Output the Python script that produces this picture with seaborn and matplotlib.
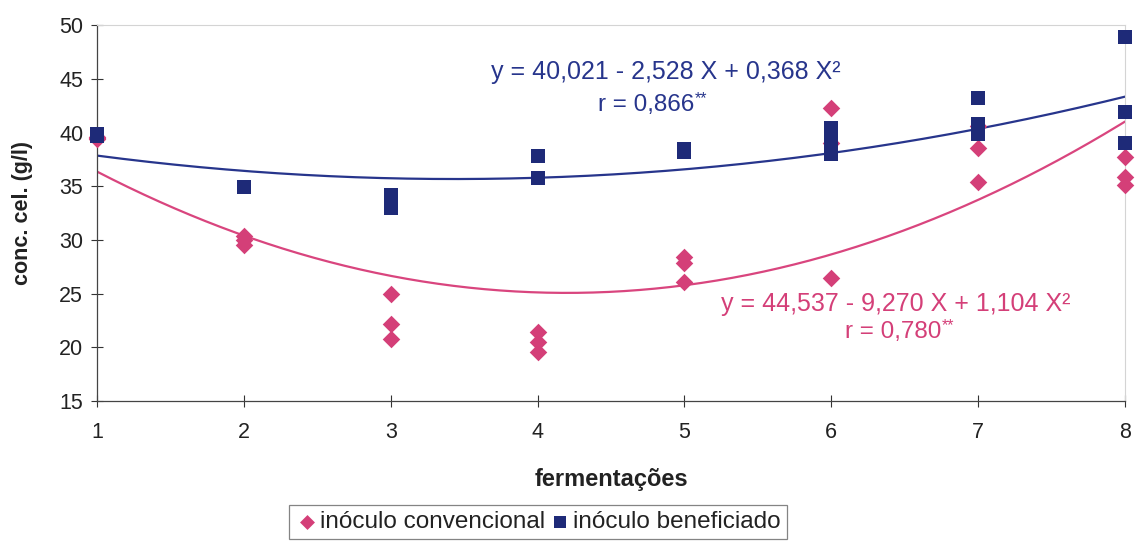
import numpy as np
import pandas as pd
import matplotlib
matplotlib.use("Agg")
import matplotlib.pyplot as plt
from matplotlib.transforms import offset_copy
import seaborn as sns

sns.set_theme(style="white")
plt.rcParams["font.family"] = ["Liberation Sans", "DejaVu Sans"]

# fermentation cycle of each observation (three replicates per cycle)
fermentacao = [1, 1, 1, 2, 2, 2, 3, 3, 3, 4, 4, 4,
               5, 5, 5, 6, 6, 6, 7, 7, 7, 8, 8, 8]
# cell concentration (g/l) with the conventional inoculum
conc_convencional = [39.5, 39.4, 39.6, 30.4, 30.0, 29.5, 25.0, 22.2, 20.8,
                     21.4, 20.5, 19.6, 28.4, 27.9, 26.1, 42.3, 39.0, 26.5,
                     40.6, 38.6, 35.4, 37.7, 35.9, 35.1]
# cell concentration (g/l) with the improved inoculum
conc_beneficiado = [39.8, 39.9, 39.7, 34.9, 34.9, 34.9, 34.2, 33.6, 33.0,
                    37.8, 35.8, 35.8, 38.4, 38.2, 38.5, 40.4, 39.2, 38.0,
                    43.2, 40.8, 39.9, 48.9, 41.9, 39.0]

# quadratic regression coefficients (a, b, c) for y = a + bX + cX^2
coef_convencional = [44.537, -9.270, 1.104]
coef_beneficiado = [40.021, -2.528, 0.368]
r_convencional = "0,780"
r_beneficiado = "0,866"
eq_convencional = "y = 44,537 - 9,270 X + 1,104 X²"
eq_beneficiado = "y = 40,021 - 2,528 X + 0,368 X²"

serie_convencional = "inóculo convencional"
serie_beneficiado = "inóculo beneficiado"
rosa = "#D43F78"
rosa_linha = "#D9457E"
azul = "#1E2A78"
azul_linha = "#27358C"


def quadratica(coef, x):
    return coef[0] + coef[1] * x + coef[2] * x ** 2


xs = np.linspace(1, 8, 200)
curvas = pd.DataFrame({
    "x": np.concatenate([xs, xs]),
    "y": np.concatenate([quadratica(coef_convencional, xs),
                         quadratica(coef_beneficiado, xs)]),
    "serie": [serie_convencional] * len(xs) + [serie_beneficiado] * len(xs),
})

fig = plt.figure(figsize=(11.36, 5.48), dpi=100)
ax = fig.add_axes([0.0854, 0.268, 0.905, 0.686])

sns.lineplot(data=curvas, x="x", y="y", hue="serie",
             palette={serie_convencional: rosa_linha, serie_beneficiado: azul_linha},
             linewidth=1.6, legend=False, ax=ax, zorder=2)
sns.scatterplot(x=fermentacao, y=conc_convencional, color=rosa, marker="D",
                s=80, linewidth=0, ax=ax, zorder=3, clip_on=False,
                label=serie_convencional)
sns.scatterplot(x=fermentacao, y=conc_beneficiado, color=azul, marker="s",
                s=100, linewidth=0, ax=ax, zorder=4, clip_on=False,
                label=serie_beneficiado)
if ax.get_legend() is not None:
    ax.get_legend().remove()

ax.set_xlim(1, 8)
ax.set_ylim(15, 50)
ax.set_xticks(range(1, 9))
ax.set_yticks(range(15, 51, 5))
ax.tick_params(axis="both", direction="inout", length=8, width=0.8,
               colors="#333333", labelsize=15.5, labelcolor="#222222",
               bottom=True, left=True, pad=6)
ax.tick_params(axis="x", pad=11)

for lado in ("left", "bottom"):
    ax.spines[lado].set_color("#444444")
    ax.spines[lado].set_linewidth(0.9)
for lado in ("top", "right"):
    ax.spines[lado].set_color("#d4d4d4")
    ax.spines[lado].set_linewidth(0.8)
    ax.spines[lado].set_linestyle((0, (4, 1)))

ax.set_xlabel("fermentações", fontsize=17, fontweight="bold", color="#222222", labelpad=18)
ax.set_ylabel("conc. cel. (g/l)", fontsize=15.5, fontweight="bold", color="#222222")
ax.yaxis.set_label_coords(-0.062, 0.5)


def texto_r(x, y, valor, cor):
    t = ax.text(x, y, f"r = {valor}", color=cor, fontsize=17.5, ha="center", va="center")
    fig.canvas.draw()
    bb = t.get_window_extent()
    inv = ax.transData.inverted()
    x1, ytop = inv.transform((bb.x1, bb.y1))
    ax.text(x1, ytop, "**", color=cor, fontsize=11.5, ha="left", va="top",
            transform=offset_copy(ax.transData, fig=fig, x=0.5, y=2, units="points"))


ax.text(4.87, 45.6, eq_beneficiado, color=azul_linha, fontsize=18, ha="center", va="center")
texto_r(4.74, 42.6, r_beneficiado, azul_linha)
ax.text(6.44, 24.0, eq_convencional, color=rosa, fontsize=18, ha="center", va="center")
texto_r(6.42, 21.4, r_convencional, rosa)

handles, labels = ax.get_legend_handles_labels()
leg = fig.legend(handles, labels, loc="upper center", bbox_to_anchor=(0.4736, 0.0785),
                 ncol=2, fontsize=17.5, frameon=True, fancybox=False,
                 handletextpad=0.05, columnspacing=0.1, borderpad=0.25,
                 borderaxespad=0.0, handlelength=1.0, markerscale=0.85)
leg.get_frame().set_edgecolor("#666666")
leg.get_frame().set_linewidth(0.9)
for t in leg.get_texts():
    t.set_color("#222222")

fig.savefig("out.png", dpi=100)
